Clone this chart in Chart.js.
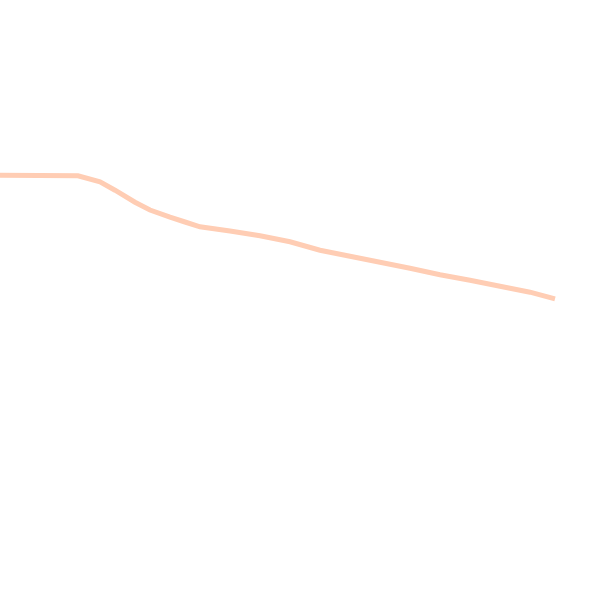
<!DOCTYPE html>
<html>
<head>
<meta charset="utf-8">
<script src="https://cdn.jsdelivr.net/npm/chart.js@4"></script>
<style>
  html, body { margin: 0; padding: 0; background: #fff; }
</style>
</head>
<body>
<canvas id="lineChart" width="600" height="600"></canvas>
<script>
// x positions and values
const xValues = [0, 7.8, 10, 11.5, 13.5, 15, 17, 18.5, 20, 23, 26, 29, 32, 35, 38, 41, 44, 47, 50, 53, 55.5];
const yValues = [70.8, 70.7, 69.7, 68.3, 66.3, 65, 63.8, 63, 62.2, 61.5, 60.7, 59.7, 58.3, 57.3, 56.3, 55.3, 54.2, 53.3, 52.3, 51.3, 50.2];

const ctx = document.getElementById("lineChart").getContext("2d");

new Chart(ctx, {
    type: "line",
    data: {
        datasets: [{
            data: xValues.map((x, i) => ({ x: x, y: yValues[i] })),
            borderColor: "#ffcdb4",
            borderWidth: 5,
            pointRadius: 0,
            tension: 0,
            fill: false
        }]
    },
    options: {
        responsive: false,
        animation: false,
        layout: { padding: 0 },
        scales: {
            x: { type: "linear", min: 0, max: 60, display: false },
            y: { min: 0, max: 100, display: false }
        },
        plugins: {
            legend: { display: false },
            tooltip: { enabled: false }
        }
    }
});
</script>
</body>
</html>
